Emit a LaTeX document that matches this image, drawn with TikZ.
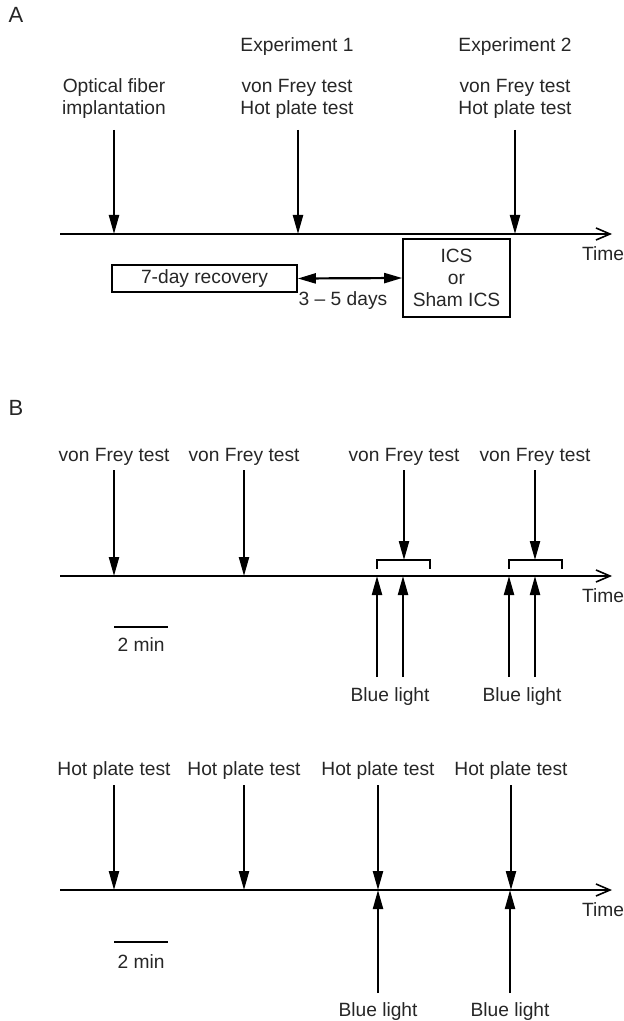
\documentclass[tikz,border=0pt]{standalone}
\usepackage{fontspec}
\setmainfont{Liberation Sans}
\usetikzlibrary{arrows.meta}
\begin{document}
\begin{tikzpicture}[x=0.5pt,y=-0.5pt,
  lbl/.style={anchor=base,inner sep=0pt,font=\fontsize{9.6}{11}\selectfont,text=black!85},
  panel/.style={anchor=base,inner sep=0pt,font=\fontsize{11}{13}\selectfont,text=black!85},
  axis/.style={line width=1.1pt,-{Straight Barb[length=7pt,width=6pt,line width=0.8pt]}},
  evarrow/.style={line width=1.1pt,-{Triangle[length=9.5pt,width=5pt]}},
  dblarrow/.style={line width=1.1pt,{Triangle[length=9pt,width=5pt]}-{Triangle[length=9pt,width=5pt]}},
  boxnode/.style={draw,line width=0.8pt,inner sep=0pt,align=center,font=\fontsize{9.6}{11}\selectfont,text=black!85},
  bracket/.style={line width=0.8pt},
  scalebar/.style={line width=1.1pt}]
\useasboundingbox (0,0) rectangle (624,1021);

% ---------- Panel A ----------
\node[panel] (labA) at (16,23) {A};
\coordinate (a0) at (60,234);
\coordinate (a1) at (612,234);
\draw[axis] (a0) -- (a1);
\node[lbl] (timeA) at (603,261) {Time};

\node[lbl] (opt1) at (114,93) {Optical fiber};
\node[lbl] (opt2) at (114,115) {implantation};
\node[lbl] (exp1) at (297,52) {Experiment 1};
\node[lbl] (vf1) at (297,93) {von Frey test};
\node[lbl] (hp1) at (297,115) {Hot plate test};
\node[lbl] (exp2) at (515,52) {Experiment 2};
\node[lbl] (vf2) at (515,93) {von Frey test};
\node[lbl] (hp2) at (515,115) {Hot plate test};

\coordinate (ta1) at (114,130); \coordinate (ba1) at (114,234);
\coordinate (ta2) at (298,130); \coordinate (ba2) at (298,234);
\coordinate (ta3) at (515,130); \coordinate (ba3) at (515,234);
\draw[evarrow] (ta1) -- (ba1);
\draw[evarrow] (ta2) -- (ba2);
\draw[evarrow] (ta3) -- (ba3);

\node[boxnode,minimum width=92.5pt,minimum height=13.5pt] (rec) at (204.5,278.5) {7-day recovery};
\node[boxnode,minimum width=53.5pt,minimum height=39pt] (ics) at (456.5,278) {ICS\\or\\Sham ICS};
\draw[dblarrow] (rec.east) -- (ics.west);
\node[lbl] (days) at (343,306) {3 -- 5 days};

% ---------- Panel B (von Frey) ----------
\node[panel] (labB) at (16,415) {B};
\coordinate (b0) at (60,576);
\coordinate (b1) at (612,576);
\draw[axis] (b0) -- (b1);
\node[lbl] (timeB) at (603,602) {Time};

\node[lbl] (vfb1) at (114,461) {von Frey test};
\node[lbl] (vfb2) at (244,461) {von Frey test};
\node[lbl] (vfb3) at (404,461) {von Frey test};
\node[lbl] (vfb4) at (535,461) {von Frey test};

\coordinate (tb1) at (114,470); \coordinate (bb1) at (114,576);
\coordinate (tb2) at (244,470); \coordinate (bb2) at (244,576);
\coordinate (tb3) at (404,470); \coordinate (bb3) at (404,560);
\coordinate (tb4) at (535,470); \coordinate (bb4) at (535,560);
\draw[evarrow] (tb1) -- (bb1);
\draw[evarrow] (tb2) -- (bb2);
\draw[evarrow] (tb3) -- (bb3);
\draw[evarrow] (tb4) -- (bb4);

\coordinate (br1a) at (377,569); \coordinate (br1b) at (430,569);
\coordinate (br2a) at (509,569); \coordinate (br2b) at (562,569);
\draw[bracket] (br1a) -- ++(0,-9) -| (br1b);
\draw[bracket] (br2a) -- ++(0,-9) -| (br2b);

\coordinate (ub1) at (377,677); \coordinate (ut1) at (377,576);
\coordinate (ub2) at (403,677); \coordinate (ut2) at (403,576);
\coordinate (ub3) at (509,677); \coordinate (ut3) at (509,576);
\coordinate (ub4) at (535,677); \coordinate (ut4) at (535,576);
\draw[evarrow] (ub1) -- (ut1);
\draw[evarrow] (ub2) -- (ut2);
\draw[evarrow] (ub3) -- (ut3);
\draw[evarrow] (ub4) -- (ut4);
\node[lbl] (bl1) at (390,701) {Blue light};
\node[lbl] (bl2) at (522,701) {Blue light};

\coordinate (sb1a) at (114,627); \coordinate (sb1b) at (168,627);
\draw[scalebar] (sb1a) -- (sb1b);
\node[lbl] (min1) at (141,651) {2 min};

% ---------- Panel B (hot plate) ----------
\coordinate (c0) at (60,890);
\coordinate (c1) at (612,890);
\draw[axis] (c0) -- (c1);
\node[lbl] (timeC) at (603,916) {Time};

\node[lbl] (hpc1) at (114,775) {Hot plate test};
\node[lbl] (hpc2) at (244,775) {Hot plate test};
\node[lbl] (hpc3) at (378,775) {Hot plate test};
\node[lbl] (hpc4) at (511,775) {Hot plate test};

\coordinate (tc1) at (114,785); \coordinate (bc1) at (114,890);
\coordinate (tc2) at (244,785); \coordinate (bc2) at (244,890);
\coordinate (tc3) at (378,785); \coordinate (bc3) at (378,890);
\coordinate (tc4) at (511,785); \coordinate (bc4) at (511,890);
\draw[evarrow] (tc1) -- (bc1);
\draw[evarrow] (tc2) -- (bc2);
\draw[evarrow] (tc3) -- (bc3);
\draw[evarrow] (tc4) -- (bc4);

\coordinate (uc1) at (378,993); \coordinate (uct1) at (378,890);
\coordinate (uc2) at (510,993); \coordinate (uct2) at (510,890);
\draw[evarrow] (uc1) -- (uct1);
\draw[evarrow] (uc2) -- (uct2);
\node[lbl] (bl3) at (378,1016) {Blue light};
\node[lbl] (bl4) at (510,1016) {Blue light};

\coordinate (sb2a) at (114,942); \coordinate (sb2b) at (168,942);
\draw[scalebar] (sb2a) -- (sb2b);
\node[lbl] (min2) at (141,968) {2 min};
\end{tikzpicture}
\end{document}
